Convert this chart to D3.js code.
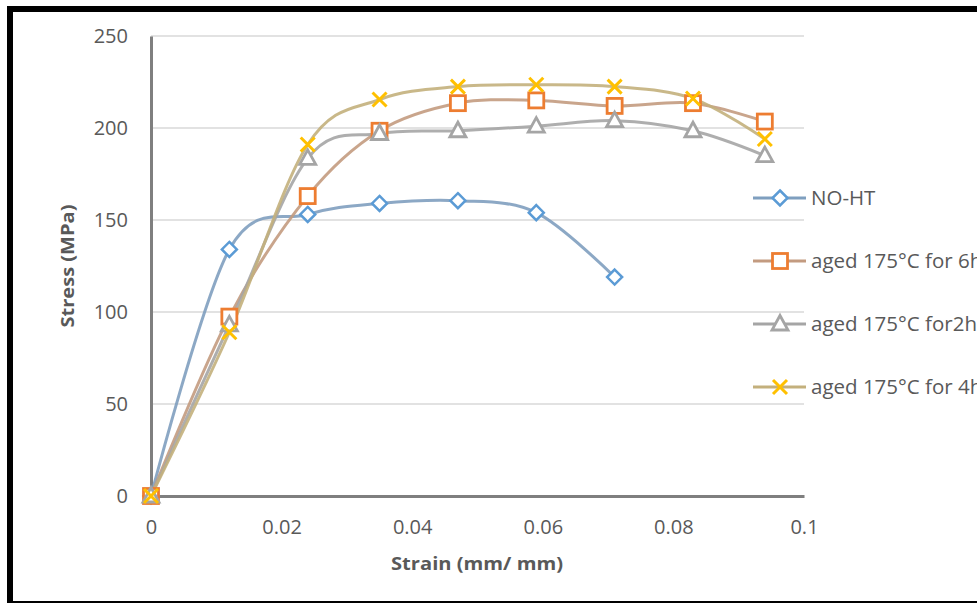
<!DOCTYPE html>
<html><head><meta charset="utf-8">
<script src="https://cdn.jsdelivr.net/npm/d3@7"></script>
<style>html,body{margin:0;padding:0;background:#fff;overflow:hidden}</style>
</head><body><svg id="c" width="977" height="604"></svg>
<script>
const strain = [0, 0.012, 0.024, 0.035, 0.047, 0.059, 0.071, 0.083, 0.094];
const noHT  = [0, 134, 153, 159, 160.5, 154, 119];
const aged6h = [0, 97.5, 163, 198.5, 213.5, 215, 212, 213.5, 203.5];
const aged2h = [0, 93, 183.5, 197, 198.5, 201, 204, 198.5, 185];
const aged4h = [0, 89, 191, 215.5, 222.5, 223.5, 222.5, 216, 194];
const seriesNames = ["NO-HT", "aged 175°C for 6h", "aged 175°C for2h", "aged 175°C for 4h"];
const xTicks = [0, 0.02, 0.04, 0.06, 0.08, 0.1];
const yTicks = [0, 50, 100, 150, 200, 250];

const svg = d3.select("#c");
const x = d3.scaleLinear().domain([0, 0.1]).range([151, 804]);
const y = d3.scaleLinear().domain([0, 250]).range([496, 36]);
const font = "'Open Sans', Lato, sans-serif";

// frame
svg.append("rect").attr("x",7).attr("y",6).attr("width",6).attr("height",597).attr("fill","#000");
svg.append("rect").attr("x",7).attr("y",6).attr("width",970).attr("height",6).attr("fill","#000");
svg.append("rect").attr("x",7).attr("y",601).attr("width",970).attr("height",2).attr("fill","#000");

// gridlines
svg.append("g").selectAll("line").data(yTicks.filter(d=>d>0)).join("line")
  .attr("x1",x(0)).attr("x2",x(0.1)).attr("y1",d=>y(d)).attr("y2",d=>y(d))
  .attr("stroke","#d9d9d9").attr("stroke-width",1.5);

// axes
const yAxis = svg.append("g").attr("transform",`translate(${x(0)},0)`)
  .call(d3.axisLeft(y).tickValues(yTicks).tickSize(0).tickPadding(23).tickFormat(d3.format("d")));
yAxis.select(".domain").attr("stroke","#7f7f7f").attr("stroke-width",3);
yAxis.selectAll("text").attr("font-family",font).attr("font-size",20).attr("fill","#595959");

const xAxis = svg.append("g").attr("transform",`translate(0,${y(0)})`)
  .call(d3.axisBottom(x).tickValues(xTicks).tickSize(0).tickPadding(24).tickFormat(d=>d===0?"0":String(+d.toFixed(2))));
xAxis.select(".domain").attr("stroke","#7f7f7f").attr("stroke-width",3);
xAxis.selectAll("text").attr("font-family",font).attr("font-size",20).attr("fill","#595959");

// axis titles
svg.append("text").attr("x",477).attr("y",570).attr("text-anchor","middle")
  .attr("font-family",font).attr("font-weight","bold").attr("font-size",18.5).attr("fill","#595959")
  .attr("textLength",172).attr("lengthAdjust","spacingAndGlyphs")
  .text("Strain (mm/ mm)");
svg.append("text").attr("transform","translate(74,266) rotate(-90)").attr("text-anchor","middle")
  .attr("font-family",font).attr("font-weight","bold").attr("font-size",18.5).attr("fill","#595959")
  .attr("textLength",123).attr("lengthAdjust","spacingAndGlyphs")
  .text("Stress (MPa)");

const series = [
  {name: seriesNames[0], vals: noHT, line: "#7f9fbf", mark: "#5b9bd5", sym: "diamond"},
  {name: seriesNames[1], vals: aged6h, line: "#c39b80", mark: "#ed7d31", sym: "square"},
  {name: seriesNames[2], vals: aged2h, line: "#a5a5a5", mark: "#a5a5a5", sym: "triangle"},
  {name: seriesNames[3], vals: aged4h, line: "#c3b07c", mark: "#ffc000", sym: "x"},
];

const lineGen = d3.line().x(d=>x(d[0])).y(d=>y(d[1])).curve(d3.curveCardinal.tension(0));

function drawMarker(g, sym, color, cx, cy) {
  if (sym === "diamond") {
    g.append("path").attr("d",`M${cx},${cy-7.5}L${cx+7.5},${cy}L${cx},${cy+7.5}L${cx-7.5},${cy}Z`)
      .attr("fill","#fff").attr("stroke",color).attr("stroke-width",2.5);
  } else if (sym === "square") {
    g.append("rect").attr("x",cx-7.5).attr("y",cy-7.5).attr("width",15).attr("height",15)
      .attr("fill","#fff").attr("stroke",color).attr("stroke-width",2.8);
  } else if (sym === "triangle") {
    g.append("path").attr("d",`M${cx},${cy-8.5}L${cx+8},${cy+6}L${cx-8},${cy+6}Z`)
      .attr("fill","#fff").attr("stroke",color).attr("stroke-width",2.8);
  } else {
    g.append("path").attr("d",`M${cx-7},${cy-7}L${cx+7},${cy+7}M${cx+7},${cy-7}L${cx-7},${cy+7}`)
      .attr("fill","none").attr("stroke",color).attr("stroke-width",3);
  }
}

const lineLayer = svg.append("g");
const markLayer = svg.append("g");
series.forEach(s => {
  const pts = s.vals.map((v,i)=>[strain[i], v]);
  lineLayer.append("path").attr("d", lineGen(pts)).attr("fill","none")
    .attr("stroke", s.line).attr("stroke-width",3).attr("stroke-opacity",0.9);
  pts.forEach(p => drawMarker(markLayer, s.sym, s.mark, x(p[0]), y(p[1])));
});

// legend
const legY = [198, 261, 324, 387];
series.forEach((s,i) => {
  const g = svg.append("g");
  g.append("line").attr("x1",753).attr("x2",806).attr("y1",legY[i]).attr("y2",legY[i])
    .attr("stroke",s.line).attr("stroke-width",3);
  drawMarker(g, s.sym, s.mark, 780, legY[i]);
  g.append("text").attr("x",811).attr("y",legY[i]+7).attr("font-family",font)
    .attr("font-size",20.5).attr("fill","#595959").text(s.name);
});
</script></body></html>
